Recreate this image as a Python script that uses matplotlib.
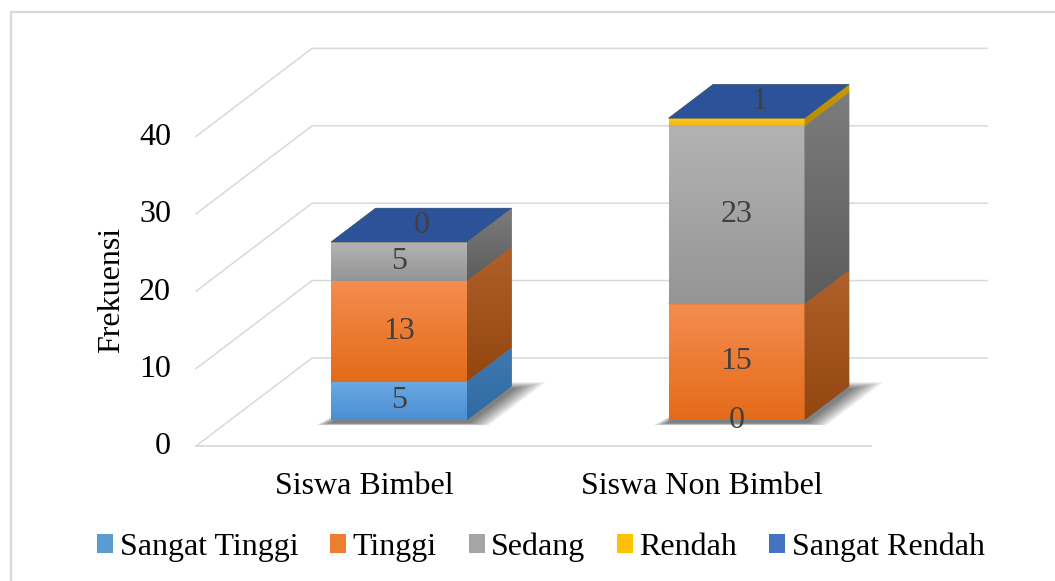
import numpy as np
import matplotlib
matplotlib.use("Agg")
import matplotlib.pyplot as plt
from matplotlib.patches import Polygon, Patch, Rectangle
from matplotlib.colors import to_rgb
from matplotlib.transforms import offset_copy

plt.rcParams['font.family'] = ['Liberation Serif', 'DejaVu Serif']

# data
categories = ['Siswa Bimbel', 'Siswa Non Bimbel']
series = ['Sangat Tinggi', 'Tinggi', 'Sedang', 'Rendah', 'Sangat Rendah']
sangat_tinggi = [5, 0]
tinggi = [13, 15]
sedang = [5, 23]
rendah = [0, 1]
sangat_rendah = [0, 0]
values = [sangat_tinggi, tinggi, sedang, rendah, sangat_rendah]
yticks = [0, 10, 20, 30, 40]

# styles: legend colour, front gradient, side gradient, top face
legend_cols = ['#5b9bd5', '#ed7d31', '#a5a5a5', '#ffc000', '#4472c4']
front_cols = [('#6aa9e2', '#4b8ed3'), ('#f48d50', '#e46b18'), ('#b3b3b3', '#959595'),
              ('#ffc82a', '#f4b800'), ('#4f7ccb', '#3e68b5')]
side_cols = [('#4079b0', '#2f6aa3'), ('#b0602a', '#93460f'), ('#7c7c7c', '#5c5c5c'),
             ('#c99a00', '#b58a00'), ('#2e5394', '#284a88')]
top_cols = ['#4a86c0', '#c0621f', '#8c8c8c', '#d9a600', '#2c5399']
txt_col = '#404040'
grid_col = '#d9d9d9'
FS = 23

# layout of the fake 3d projection (pixels of the 1055x581 canvas)
W, H = 1055, 581
X0, CATPX, Y0, VALPX = 364.8, 337.5, 446.0, 7.74
DX, DY = 116 / CATPX, 88 / VALPX     # full depth of the floor
T0, T1 = 0.295, 0.68                  # front / back of the bars
HW = 0.2015                           # half bar width


def P(c, v, t):
    return (c + t * DX, v + t * DY)


fig = plt.figure(figsize=(W / 100, H / 100), dpi=100)
ax = fig.add_axes([0, 0, 1, 1])
ax.set_axis_off()
xlim = (-X0 / CATPX, (W - X0) / CATPX)
ylim = ((Y0 - H) / VALPX, Y0 / VALPX)

# outer border of the chart area
fig.patches.append(Rectangle((11 / W, -0.1), 1.2, 1 - 12 / H + 0.1, transform=fig.transFigure,
                             fill=False, edgecolor='#d9d9d9', lw=1.6))

# walls and gridlines
for g in yticks:
    pts = [P(-0.5, g, 0), P(-0.5, g, 1), P(1.5, g, 1)]
    ax.plot([p[0] for p in pts], [p[1] for p in pts], color=grid_col, lw=1.1, zorder=1,
            solid_joinstyle='miter')
fl = [P(-0.5, 0, 0), P(1.5, 0, 0)]
ax.plot([p[0] for p in fl], [p[1] for p in fl], color=grid_col, lw=1.3, zorder=1)

# tick labels
tick_tr = offset_copy(ax.transData, fig=fig, x=-25, y=-1, units='dots')
for g in yticks:
    x, y = P(-0.5, g, 0)
    ax.text(x, y, str(g), transform=tick_tr, ha='right', va='center', fontsize=FS, color='black')

fig.text(112 / W, 1 - 290 / H, 'Frekuensi', rotation=90, ha='center', va='center', fontsize=FS)

cat_tr = offset_copy(ax.transData, fig=fig, x=0, y=-40, units='dots')
for i, cat in enumerate(categories):
    x, y = P(i, 0, 0)
    ax.text(x, y, cat, transform=cat_tr, ha='center', va='center', fontsize=FS)

zc = [3.0]


def grad_poly(verts, c_top, c_bot):
    z = zc[0]
    zc[0] += 0.01
    base = Polygon(verts, closed=True, facecolor=np.mean([to_rgb(c_top), to_rgb(c_bot)], axis=0),
                   edgecolor='none', zorder=z)
    ax.add_patch(base)
    clip = Polygon(verts, closed=True, facecolor='none', edgecolor='none')
    ax.add_patch(clip)
    xs = [p[0] for p in verts]
    ys = [p[1] for p in verts]
    grad = np.linspace(to_rgb(c_top), to_rgb(c_bot), 64)[:, None, :]
    im = ax.imshow(grad, extent=(min(xs), max(xs), min(ys), max(ys)), origin='upper',
                   aspect='auto', interpolation='bilinear', zorder=z + 0.001)
    im.set_clip_path(clip)


# soft shadows under the bars
for i in range(len(categories)):
    for k in range(8, 0, -1):
        el = k * 0.0045
        er = k * 0.009
        pts = [P(i - HW - el, -0.4, T0 - k * 0.003), P(i + HW + er, -0.4, T0 - k * 0.003),
               P(i + HW + er, -0.4, T1 + k * 0.01), P(i - HW + 0.03, -0.4, T1 + k * 0.01)]
        ax.add_patch(Polygon(pts, closed=True, facecolor='black', alpha=0.08, edgecolor='none', zorder=2))

# bars
for i in range(len(categories)):
    total = sum(values[s][i] for s in range(len(series)))
    bottom = 0
    top_label = None
    for s in range(len(series)):
        v = values[s][i]
        b, t = bottom, bottom + v
        if v > 0:
            front = [P(i - HW, b, T0), P(i + HW, b, T0), P(i + HW, t, T0), P(i - HW, t, T0)]
            grad_poly(front, *front_cols[s])
            side = [P(i + HW, b, T0), P(i + HW, b, T1), P(i + HW, t, T1), P(i + HW, t, T0)]
            grad_poly(side, *side_cols[s])
        top = [P(i - HW, t, T0), P(i + HW, t, T0), P(i + HW, t, T1), P(i - HW, t, T1)]
        ax.add_patch(Polygon(top, closed=True, facecolor=top_cols[s], edgecolor=top_cols[s],
                             lw=0.3, zorder=zc[0]))
        zc[0] += 0.01
        # data labels
        if v >= 2:
            x, y = P(i, (b + t) / 2, T0)
            ax.text(x, y, str(v), ha='center', va='center', fontsize=FS, color=txt_col, zorder=20)
        elif b >= total - 1 and b > 0:
            if top_label is None:
                top_label = str(v)
        elif v == 0 and b == 0:
            x, y = P(i, 0, T0)
            ax.text(x, y, str(v), ha='center', va='center', fontsize=FS, color=txt_col, zorder=20)
        bottom = t
    if top_label is not None:
        tm = (T0 + T1) / 2
        x, y = P(i, total, tm)
        ax.text(x, y, top_label, ha='center', va='center', fontsize=FS, color=txt_col, zorder=20)

ax.set_xlim(*xlim)
ax.set_ylim(*ylim)

handles = [Patch(facecolor=legend_cols[s], edgecolor='none', label=series[s]) for s in range(len(series))]
fig.legend(handles=handles, loc='center', bbox_to_anchor=(541 / W, 1 - 547 / H), ncol=5,
           frameon=False, fontsize=FS, handlelength=0.5, handleheight=0.5,
           handletextpad=0.2, columnspacing=1.0, borderpad=0)

fig.savefig('out.png', dpi=100, facecolor='white')
